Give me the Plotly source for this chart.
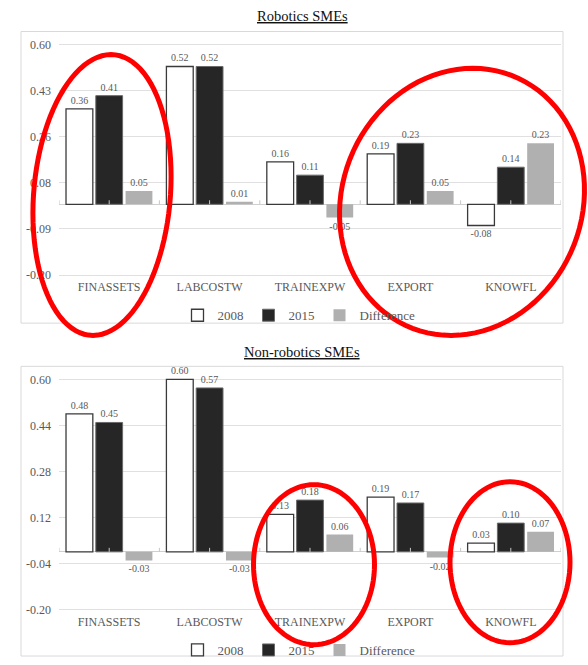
import numpy as np
import plotly.graph_objects as go

# ---- data -------------------------------------------------------------
categories = ["FINASSETS", "LABCOSTW", "TRAINEXPW", "EXPORT", "KNOWFL"]

robotics_2008 = [0.36, 0.52, 0.16, 0.19, -0.08]
robotics_2015 = [0.41, 0.52, 0.11, 0.23, 0.14]
robotics_diff = [0.05, 0.01, -0.05, 0.05, 0.23]

nonrobotics_2008 = [0.48, 0.60, 0.13, 0.19, 0.03]
nonrobotics_2015 = [0.45, 0.57, 0.18, 0.17, 0.10]
nonrobotics_diff = [-0.03, -0.03, 0.06, -0.02, 0.07]

robotics_tick_labels = ["-0.20", "-0.09", "0.08", "0.26", "0.43", "0.60"]
nonrobotics_tick_labels = ["-0.20", "-0.04", "0.12", "0.28", "0.44", "0.60"]

series_names = ["2008", "2015", "Difference"]

# ---- layout constants -------------------------------------------------
W, H = 588, 665
FONT = "Liberation Serif"
GREY_TXT = "#595959"
GRID = "#e0e0e0"


def px_x(x):
    return x / W


def px_y(y):
    return 1 - y / H


# axis ranges / gridline ticks for each panel
top_range = [-0.278, 0.615]
top_ticks = [-0.267 + 0.174 * i for i in range(len(robotics_tick_labels))]
bot_range = [-0.212, 0.611]
bot_ticks = [-0.20 + 0.16 * i for i in range(len(nonrobotics_tick_labels))]

styles = [
    dict(color="#ffffff", line=dict(color="#3a3a3a", width=1.3)),
    dict(color="#262626", line=dict(color="#6a6a6a", width=1)),
    dict(color="#b0b0b0", line=dict(color="#b0b0b0", width=0)),
]

fig = go.Figure()

panels = [
    ("x", "y", "legend", [robotics_2008, robotics_2015, robotics_diff]),
    ("x2", "y2", "legend2", [nonrobotics_2008, nonrobotics_2015, nonrobotics_diff]),
]

for xa, ya, lg, series in panels:
    for name, vals, st in zip(series_names, series, styles):
        fig.add_trace(go.Bar(
            x=categories, y=vals, name=name,
            xaxis=xa, yaxis=ya, legend=lg,
            marker=st,
            texttemplate="%{y:.2f}", textposition="outside",
            textfont=dict(family=FONT, size=10, color=GREY_TXT),
            cliponaxis=False, hoverinfo="skip",
        ))

x_dom = [px_x(59), px_x(561)]
axis_common = dict(
    showgrid=True, gridcolor=GRID, gridwidth=1,
    zeroline=True, zerolinecolor="#d0d0d0", zerolinewidth=1,
    showline=False, ticks="",
    tickfont=dict(family=FONT, size=12, color=GREY_TXT),
    ticklabelstandoff=7,
)
xaxis_common = dict(
    showgrid=False, zeroline=False, showline=False, ticks="",
    tickfont=dict(family=FONT, size=12, color=GREY_TXT),
    range=[-0.5, len(categories) - 0.5],
)
legend_common = dict(
    orientation="h", xanchor="center", yanchor="middle",
    font=dict(family=FONT, size=13, color=GREY_TXT),
    itemwidth=30, bgcolor="rgba(0,0,0,0)",
)

fig.update_layout(
    width=W, height=H,
    margin=dict(l=0, r=0, t=0, b=0),
    paper_bgcolor="white", plot_bgcolor="white",
    barmode="group", bargap=0.11, bargroupgap=0.1,
    xaxis=dict(domain=x_dom, anchor="y", **xaxis_common),
    xaxis2=dict(domain=x_dom, anchor="y2", **xaxis_common),
    yaxis=dict(domain=[px_y(279), px_y(38)], anchor="x", range=top_range,
               tickvals=top_ticks, ticktext=robotics_tick_labels, **axis_common),
    yaxis2=dict(domain=[px_y(620), px_y(379)], anchor="x2", range=bot_range,
                tickvals=bot_ticks, ticktext=nonrobotics_tick_labels, **axis_common),
    legend=dict(x=px_x(299), y=px_y(317), **legend_common),
    legend2=dict(x=px_x(299), y=px_y(658), **legend_common),
)

# panel titles
for text, y in [("Robotics SMEs", 12), ("Non-robotics SMEs", 354)]:
    fig.add_annotation(text=f"<u>{text}</u>", x=px_x(302), y=px_y(y),
                       xref="paper", yref="paper", showarrow=False,
                       xanchor="center", yanchor="middle",
                       font=dict(family=FONT, size=14.5, color="#111111"))

# chart frames
for y0, y1 in [(28, 325), (369, 664)]:
    fig.add_shape(type="rect", xref="paper", yref="paper",
                  x0=px_x(21), x1=px_x(563), y0=px_y(y1), y1=px_y(y0),
                  line=dict(color="#d9d9d9", width=1), layer="below")

# small category tick marks on the zero baseline
tick_pos = [i * 0.5 - 0.5 for i in range(2 * len(categories) + 1)]
for xa, ya in [("x", "y"), ("x2", "y2")]:
    for tp in tick_pos:
        fig.add_shape(type="line", xref=xa, yref=ya,
                      x0=tp, x1=tp, ysizemode="pixel", yanchor=0, y0=0, y1=4,
                      line=dict(color="#c8c8c8", width=1), layer="above")


# red highlight ellipses
def ellipse_path(cx, cy, a, b, k, n=96):
    t = np.linspace(0, 2 * np.pi, n, endpoint=False)
    xs = cx + a * np.cos(t) + k * b * np.sin(t)
    ys = cy + b * np.sin(t)
    pts = [f"{px_x(x):.5f},{px_y(y):.5f}" for x, y in zip(xs, ys)]
    return "M" + " L".join(pts) + " Z"


highlights = [
    (102, 194.5, 68.5, 143, -0.063),
    (462, 201.5, 122, 136, -0.08),
    (314, 571, 60.5, 81.5, 0.0),
    (510, 568.5, 60, 82, 0.0),
]
for cx, cy, a, b, k in highlights:
    fig.add_shape(type="path", xref="paper", yref="paper",
                  path=ellipse_path(cx, cy, a, b, k),
                  line=dict(color="#ff0000", width=5), layer="above")

fig.write_html("out.html")
